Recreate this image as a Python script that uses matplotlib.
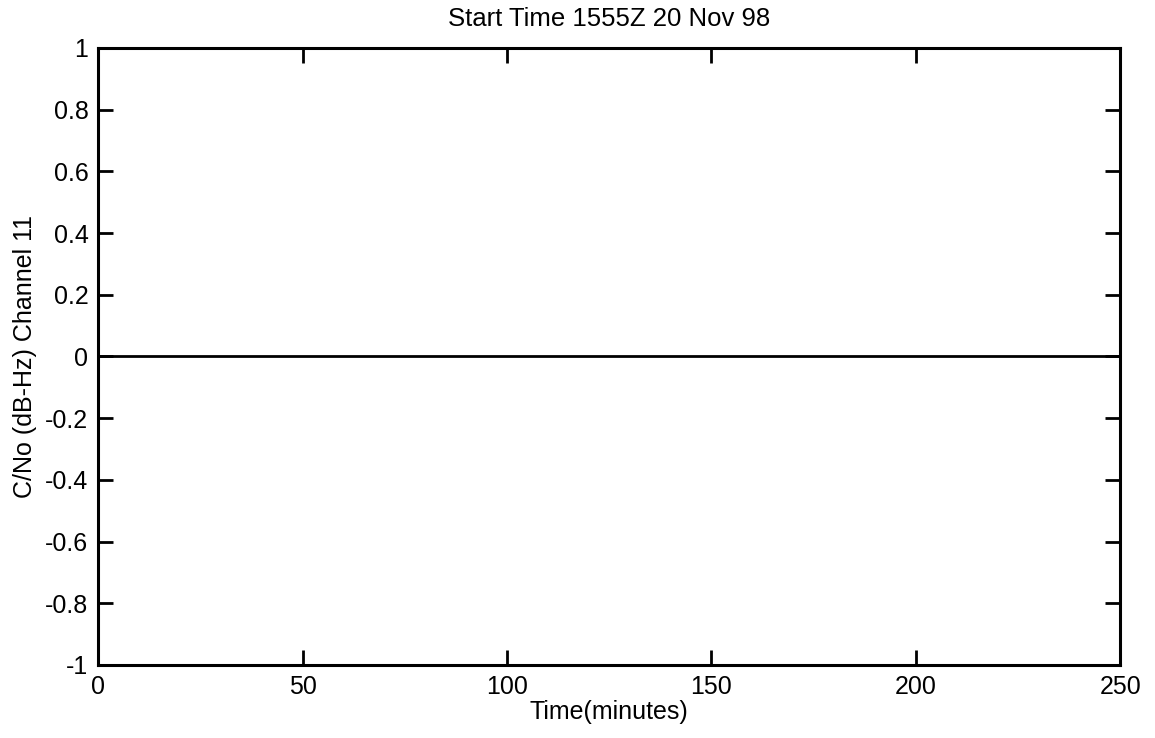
import matplotlib
matplotlib.use("Agg")
from matplotlib import pyplot as plt

# Channel 11 C/No trace (flat at zero over the whole run)
time_minutes = [0, 50, 100, 150, 200, 250]
cno_db_hz = [0, 0, 0, 0, 0, 0]

x_ticks = [0, 50, 100, 150, 200, 250]
y_ticks = [-1, -0.8, -0.6, -0.4, -0.2, 0, 0.2, 0.4, 0.6, 0.8, 1]
y_tick_labels = ["-1", "-0.8", "-0.6", "-0.4", "-0.2", "0", "0.2", "0.4", "0.6", "0.8", "1"]

plt.rcParams["font.family"] = ["Liberation Sans", "DejaVu Sans"]

fig = plt.figure(figsize=(11.55, 7.38), dpi=100)
ax = fig.add_axes([0.085, 0.099, 0.885, 0.836])

ax.plot(time_minutes, cno_db_hz, color="black", linewidth=2)

ax.set_xlim(0, 250)
ax.set_ylim(-1, 1)
ax.set_xticks(x_ticks)
ax.set_yticks(y_ticks)
ax.set_yticklabels(y_tick_labels)
ax.tick_params(direction="in", length=11, width=2, labelsize=18,
               top=True, right=True, pad=7)
for spine in ax.spines.values():
    spine.set_linewidth(2.2)

ax.set_title("Start Time 1555Z 20 Nov 98", fontsize=18.5, pad=16)
ax.set_xlabel("Time(minutes)", fontsize=18, labelpad=1)
ax.set_ylabel("C/No (dB-Hz) Channel 11", fontsize=18, labelpad=6)

fig.savefig("out.png", dpi=100)
